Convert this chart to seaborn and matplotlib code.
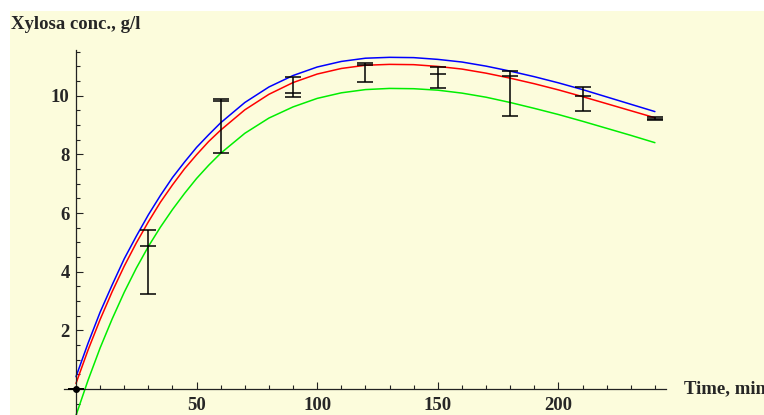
import numpy as np
import pandas as pd
import seaborn as sns
import matplotlib.pyplot as plt
from matplotlib.patches import Rectangle
from matplotlib.ticker import MultipleLocator

# model curves (every 5 min early on, then every 10 min)
t_curve = [0, 5, 10, 15, 20, 25, 30, 35, 40, 45, 50, 55, 60, 70, 80, 90, 100, 110, 120,
           130, 140, 150, 160, 170, 180, 190, 200, 210, 220, 230, 240]
blue_curve = [0.42, 1.56, 2.62, 3.55, 4.44, 5.21, 5.94, 6.60, 7.21, 7.74, 8.24, 8.67, 9.08,
              9.77, 10.30, 10.69, 10.98, 11.17, 11.28,
              11.31, 11.30, 11.24, 11.15, 11.01, 10.84, 10.65, 10.44, 10.21, 9.96, 9.71, 9.46]
red_curve = [0.19, 1.33, 2.37, 3.32, 4.19, 4.98, 5.70, 6.37, 6.96, 7.51, 7.99, 8.44, 8.83,
             9.52, 10.05, 10.45, 10.74, 10.93, 11.04,
             11.07, 11.06, 11.00, 10.91, 10.77, 10.60, 10.41, 10.20, 9.97, 9.73, 9.49, 9.25]
green_curve = [-0.90, 0.30, 1.40, 2.39, 3.30, 4.12, 4.86, 5.52, 6.12, 6.67, 7.18, 7.63, 8.04,
               8.72, 9.24, 9.62, 9.91, 10.10, 10.21,
               10.25, 10.24, 10.19, 10.09, 9.95, 9.77, 9.57, 9.36, 9.13, 8.89, 8.65, 8.40]

# measurements with error bars
t_meas = [0, 30, 60, 90, 120, 150, 180, 210, 240]
meas_low = [0.0, 3.24, 8.06, 9.97, 10.46, 10.25, 9.31, 9.47, 9.19]
meas_mid = [0.0, 4.87, 9.83, 10.10, 11.06, 10.74, 10.69, 9.99, 9.22]
meas_high = [0.0, 5.42, 9.89, 10.65, 11.13, 10.97, 10.85, 10.29, 9.28]

W, H = 764, 415

sns.set_theme(style="white")
plt.rcParams['font.family'] = ['Liberation Serif', 'DejaVu Serif']
plt.rcParams['font.weight'] = 'bold'

fig = plt.figure(figsize=(W / 100, H / 100), dpi=100)
fig.patch.set_facecolor('white')
# light yellow background, leaving a thin white strip on the top and left
fig.patches.append(Rectangle((10 / W, 0), 1, 1 - 11 / H, transform=fig.transFigure,
                             facecolor='#fcfcdc', edgecolor='none', zorder=-10))

ax = fig.add_axes([64 / W, 0, 602 / W, 365 / H])
ax.set_facecolor('none')

curves = pd.DataFrame({'t': t_curve, 'blue': blue_curve, 'red': red_curve, 'green': green_curve})
for col, c in [('green', '#00ee00'), ('red', '#ff0000'), ('blue', '#0000ff')]:
    sns.lineplot(data=curves, x='t', y=col, color=c, lw=1.1, ax=ax)

low = np.array(meas_low)
mid = np.array(meas_mid)
high = np.array(meas_high)
ax.errorbar(t_meas, mid, yerr=[mid - low, high - mid], fmt='none', ecolor='black',
            elinewidth=1.1, capsize=5.8, capthick=1.1, zorder=5)
ax.plot(t_meas, mid, ls='none', marker='_', ms=11.5, mew=1.1, color='black', zorder=5)
ax.plot([t_meas[0]], [meas_mid[0]], 'o', color='black', ms=4, zorder=6)

ax.set_xlim(-4.97, 244.6)
ax.set_ylim(-0.886, 11.56)

# axes crossing at the origin
for s in ['top', 'right']:
    ax.spines[s].set_visible(False)
for s in ['left', 'bottom']:
    ax.spines[s].set_position(('data', 0))
    ax.spines[s].set_color('#222222')
    ax.spines[s].set_linewidth(0.9)

ax.xaxis.set_major_locator(MultipleLocator(50))
ax.xaxis.set_minor_locator(MultipleLocator(10))
ax.yaxis.set_major_locator(MultipleLocator(2))
ax.yaxis.set_minor_locator(MultipleLocator(0.5))
ax.tick_params(which='both', direction='in', color='#222222', width=0.8,
               bottom=True, left=True, labelsize=13.5)
ax.tick_params(which='major', length=5)
ax.tick_params(which='minor', length=3)
ax.tick_params(axis='x', pad=5.5)
ax.tick_params(axis='y', pad=4.5)
ax.set_xticks([50, 100, 150, 200])
ax.set_yticks([2, 4, 6, 8, 10])
ax.set_xlabel('')
ax.set_ylabel('')
for lab in ax.get_xticklabels() + ax.get_yticklabels():
    lab.set_fontweight('bold')

fig.text(11 / W, 1 - 29 / H, 'Xylosa conc., g/l', fontsize=13.5, fontweight='bold',
         ha='left', va='baseline')
fig.text(684 / W, 1 - 393 / H, 'Time, min', fontsize=13.5, fontweight='bold',
         ha='left', va='baseline')

fig.savefig('out.png', dpi=100)
